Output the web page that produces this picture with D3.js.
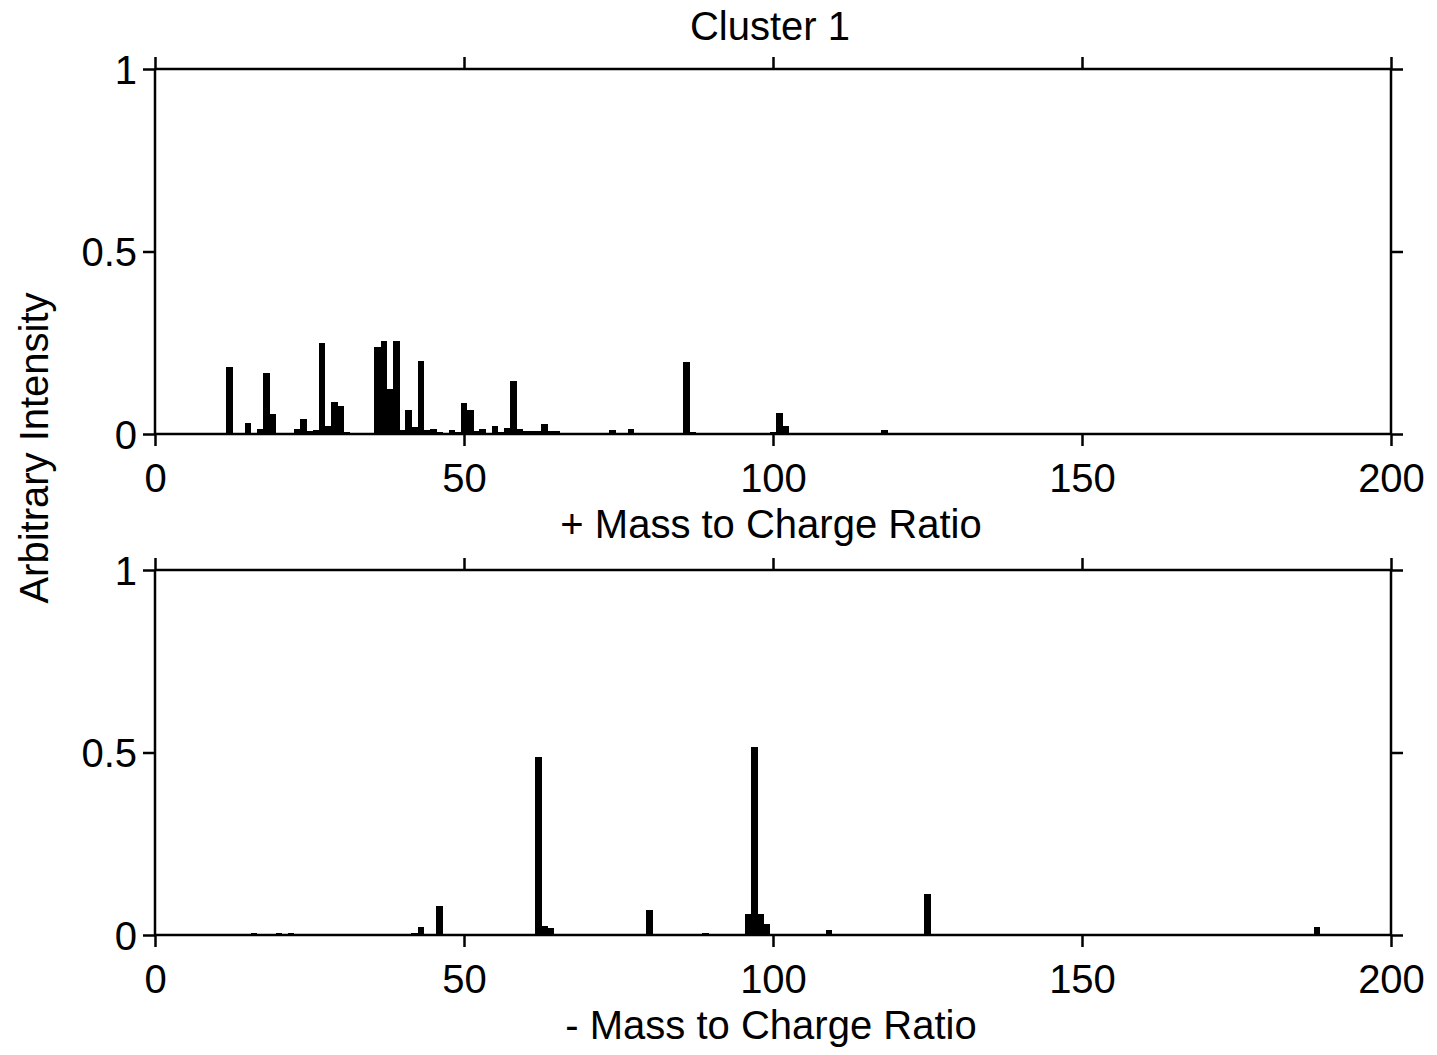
<!DOCTYPE html>
<html>
<head>
<meta charset="utf-8">
<script src="https://cdn.jsdelivr.net/npm/d3@7"></script>
<style>
  body { margin: 0; background: #fff; }
  svg { display: block; }
</style>
</head>
<body>
<div id="vis"></div>
<script>
// positive ion spectrum (m/z, intensity)
var posMz  = [12, 15, 17, 18, 19, 23, 24, 25, 26, 27, 28, 29, 30, 31, 36, 37, 38, 39, 40, 41, 42, 43, 44, 45, 46, 47, 48, 49, 50, 51, 52, 53, 54, 55, 56, 57, 58, 59, 60, 61, 62, 63, 64, 65, 74, 77, 86, 87, 100, 101, 102, 118];
var posVal = [0.184, 0.029, 0.014, 0.166, 0.054, 0.014, 0.041, 0.008, 0.011, 0.25, 0.022, 0.088, 0.077, 0.006, 0.239, 0.255, 0.122, 0.255, 0.011, 0.066, 0.018, 0.2, 0.011, 0.014, 0.005, 0.003, 0.011, 0.005, 0.084, 0.065, 0.008, 0.014, 0.003, 0.022, 0.005, 0.017, 0.146, 0.014, 0.008, 0.008, 0.008, 0.027, 0.008, 0.007, 0.011, 0.014, 0.196, 0.006, 0.006, 0.057, 0.022, 0.011];

// negative ion spectrum (m/z, intensity)
var negMz  = [16, 20, 22, 42, 43, 46, 62, 63, 64, 80, 81, 82, 89, 95, 96, 97, 98, 99, 109, 125, 188];
var negVal = [0.005, 0.005, 0.005, 0.006, 0.021, 0.08, 0.487, 0.025, 0.018, 0.068, 0.004, 0.003, 0.005, 0.004, 0.058, 0.514, 0.058, 0.03, 0.014, 0.111, 0.021];

var xTicks = [0, 50, 100, 150, 200];
var yTicks = [0, 0.5, 1];
var yTickLabels = ["0", "0.5", "1"];

var font = "Arial, 'Liberation Sans', Helvetica, sans-serif";
var W = 1437, H = 1055;
var left = 155, right = 1391;

var svg = d3.select("#vis").append("svg")
    .attr("width", W).attr("height", H)
    .style("font-family", font);

var x = d3.scaleLinear().domain([0, 200]).range([left, right]);

svg.append("text")
    .attr("x", 770).attr("y", 40)
    .attr("text-anchor", "middle")
    .style("font-size", "40px")
    .text("Cluster 1");

svg.append("text")
    .attr("transform", "translate(48,448) rotate(-90)")
    .attr("text-anchor", "middle")
    .style("font-size", "40px")
    .text("Arbitrary Intensity");

function panel(top, bottom, mz, vals, label) {
    var y = d3.scaleLinear().domain([0, 1]).range([bottom, top]);
    var g = svg.append("g");
    var bw = x(1) - x(0);

    g.selectAll("rect").data(mz).enter().append("rect")
        .attr("x", function (d) { return x(d - 0.5); })
        .attr("width", bw + 0.4)
        .attr("y", function (d, i) { return y(vals[i]); })
        .attr("height", function (d, i) { return bottom - y(vals[i]); })
        .attr("fill", "#000")
        .attr("shape-rendering", "crispEdges");

    var axB = g.append("g").attr("transform", "translate(0," + bottom + ")")
        .call(d3.axisBottom(x).tickValues(xTicks).tickSize(12).tickPadding(18).tickFormat(d3.format("d")));
    var axT = g.append("g").attr("transform", "translate(0," + top + ")")
        .call(d3.axisTop(x).tickValues(xTicks).tickSize(12).tickFormat(""));
    var axL = g.append("g").attr("transform", "translate(" + left + ",0)")
        .call(d3.axisLeft(y).tickValues(yTicks).tickSize(12).tickPadding(6)
            .tickFormat(function (d, i) { return yTickLabels[i]; }));
    var axR = g.append("g").attr("transform", "translate(" + right + ",0)")
        .call(d3.axisRight(y).tickValues(yTicks).tickSize(12).tickFormat(""));

    [axB, axT, axL, axR].forEach(function (a) {
        a.selectAll("line").attr("stroke", "#000").attr("stroke-width", 2.5);
        a.selectAll("text").attr("fill", "#000").style("font-size", "40px").style("font-family", font);
        a.select(".domain").remove();
    });
    // frame lines
    g.append("line").attr("x1", left).attr("x2", right).attr("y1", bottom).attr("y2", bottom).attr("stroke", "#000").attr("stroke-width", 2.5);
    g.append("line").attr("x1", left).attr("x2", right).attr("y1", top).attr("y2", top).attr("stroke", "#000").attr("stroke-width", 2.5);
    g.append("line").attr("x1", left).attr("x2", left).attr("y1", top).attr("y2", bottom).attr("stroke", "#000").attr("stroke-width", 2.5);
    g.append("line").attr("x1", right).attr("x2", right).attr("y1", top).attr("y2", bottom).attr("stroke", "#000").attr("stroke-width", 2.5);

    axL.selectAll("text").attr("dy", "0.36em");

    svg.append("text")
        .attr("x", 771).attr("y", bottom + 104)
        .attr("text-anchor", "middle")
        .style("font-size", "40px")
        .text(label);
}

panel(69, 434, posMz, posVal, "+ Mass to Charge Ratio");
panel(570, 935, negMz, negVal, "- Mass to Charge Ratio");
</script>
</body>
</html>
